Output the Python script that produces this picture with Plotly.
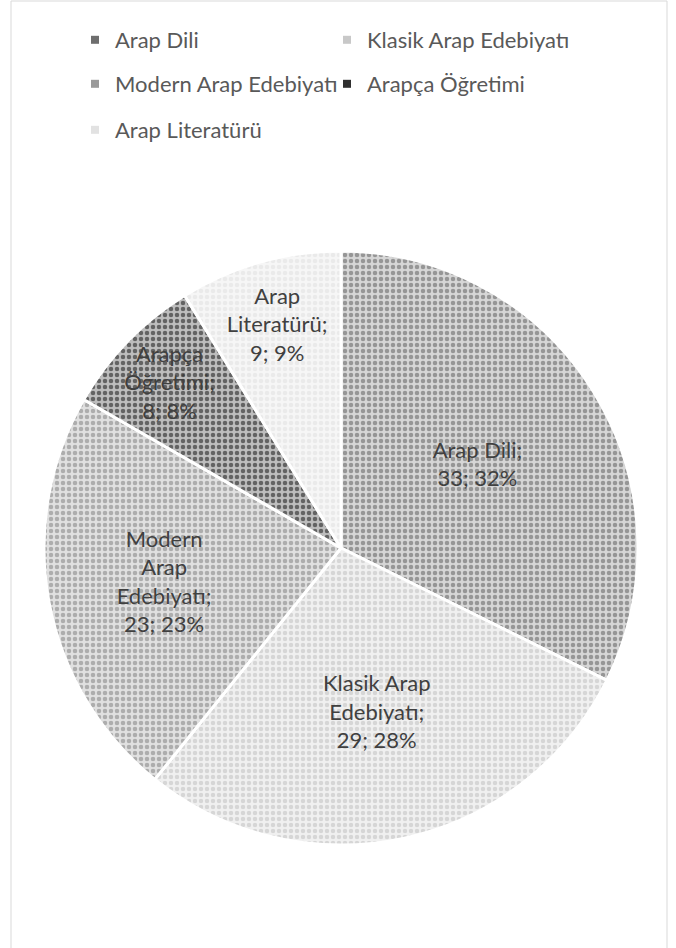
import plotly.graph_objects as go

labels = ["Arap Dili", "Klasik Arap Edebiyatı", "Modern Arap Edebiyatı", "Arapça Öğretimi", "Arap Literatürü"]
values = [33, 29, 23, 8, 9]
wrapped = ["Arap Dili;", "Klasik Arap<br>Edebiyatı;", "Modern<br>Arap<br>Edebiyatı;", "Arapça<br>Öğretimi;", "Arap<br>Literatürü;"]

bg_colors = ["#d6d6d6", "#f0f0f0", "#e0e0e0", "#bdbdbd", "#f6f6f6"]
fg_colors = ["#555555", "#bcbcbc", "#7a7a7a", "#0a0a0a", "#dedede"]
legend_icon_colors = ["#6e6e6e", "#c8c8c8", "#9a9a9a", "#303030", "#e2e2e2"]

W, H = 676, 948
cx, cy, r = 341, 548, 297

fig = go.Figure()
fig.add_trace(go.Pie(
    labels=labels,
    values=values,
    text=wrapped,
    texttemplate="%{text}<br>%{value}; %{percent:.0%}",
    textposition="inside",
    insidetextorientation="horizontal",
    textfont=dict(family="Lato", size=22, color="#404040"),
    sort=False,
    direction="clockwise",
    rotation=0,
    showlegend=False,
    marker=dict(
        colors=bg_colors,
        line=dict(color="white", width=3),
        pattern=dict(shape=".", fgcolor=fg_colors, size=6, solidity=0.45, fillmode="overlay"),
    ),
    domain=dict(x=[(cx - r) / W, (cx + r) / W], y=[(H - cy - r) / H, (H - cy + r) / H]),
    hoverinfo="label+value+percent",
))

# legend entries (two per row, as in the reference)
for i, (lab, col) in enumerate(zip(labels, legend_icon_colors)):
    lg = "legend" if i // 2 == 0 else f"legend{i // 2 + 1}"
    fig.add_trace(go.Scatter(
        x=[None], y=[None], mode="markers", name=lab,
        marker=dict(symbol="square", size=8, color=col),
        legend=lg, hoverinfo="skip",
    ))

row_y = [40, 84, 130]
legend_common = dict(
    orientation="h", x=75 / W, xanchor="left", yanchor="middle",
    entrywidth=207, entrywidthmode="pixels",
    font=dict(family="Lato", size=22, color="#595959"),
    bgcolor="rgba(0,0,0,0)",
)

fig.update_layout(
    width=W, height=H,
    margin=dict(l=0, r=0, t=0, b=0),
    paper_bgcolor="white",
    plot_bgcolor="white",
    font=dict(family="Lato", color="#595959"),
    uniformtext=dict(minsize=22, mode="show"),
    xaxis=dict(visible=False),
    yaxis=dict(visible=False),
    legend=dict(y=1 - row_y[0] / H, **legend_common),
    legend2=dict(y=1 - row_y[1] / H, **legend_common),
    legend3=dict(y=1 - row_y[2] / H, **legend_common),
    shapes=[dict(type="rect", xref="paper", yref="paper",
                 x0=11 / W, x1=667 / W, y0=-0.02, y1=1 - 1 / H,
                 line=dict(color="#d9d9d9", width=1), fillcolor="rgba(0,0,0,0)", layer="below")],
)

fig.write_html(
    "out.html",
    config={"displayModeBar": False},
    post_script="document.body.style.margin='0';document.body.style.overflow='hidden';",
)
